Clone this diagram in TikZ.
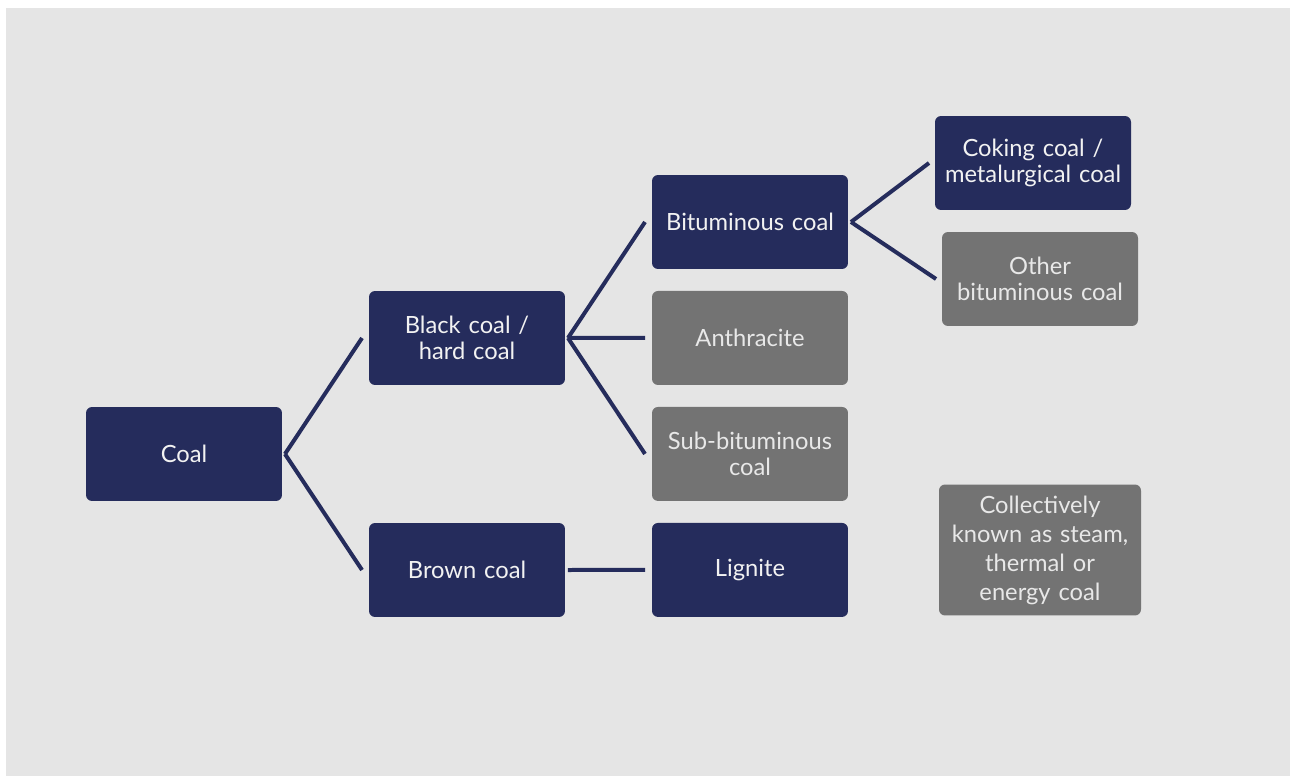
\documentclass[tikz,border=0pt]{standalone}
\usepackage{fontspec}
\setmainfont{Lato}
\usetikzlibrary{positioning}
\definecolor{navy}{RGB}{37,44,92}
\definecolor{greybox}{RGB}{115,115,115}
\definecolor{paper}{RGB}{229,229,229}
\definecolor{lighttext}{RGB}{242,242,242}
\definecolor{greytext}{RGB}{232,232,232}

\begin{document}
\begin{tikzpicture}[x=0.02cm,y=-0.02cm,
box/.style={rectangle,rounded corners=0.12cm,minimum width=3.92cm,minimum height=1.88cm,
    text width=3.8cm,align=center,inner sep=0pt,outer sep=0pt,font=\fontsize{13.5}{14.5}\selectfont},
dark/.style={box,fill=navy,text=lighttext},
pale/.style={box,fill=greybox,text=greytext},
link/.style={draw=navy,line width=0.08cm}]
\useasboundingbox (0,0) rectangle (1290,776);
\fill[paper] (6,8) rectangle (1290,776);

\node (coal) [dark] at (184,454) {Coal};
\node (black) [dark] at (467,338) {Black coal /\\hard coal};
\node (brown) [dark] at (467,570) {Brown coal};
\node (bitum) [dark] at (750,222) {Bituminous coal};
\node (anthr) [pale,below=0.44cm of bitum] {Anthracite};
\node (subbit) [pale,below=0.44cm of anthr] {Sub-bituminous\\coal};
\node (lignite) [dark,below=0.44cm of subbit] {Lignite};
\node (coking) [dark] at (1033,163) {Coking coal /\\metalurgical coal};
\node (other) [pale] at (1040,279) {Other\\bituminous coal};
\node (steam) [pale,minimum width=4.04cm,minimum height=2.62cm,
    font=\fontsize{13.5}{16.5}\selectfont] at (1040,550)
    {Collectively\\known as steam,\\thermal or\\energy coal};

\draw[link] ([xshift=0.06cm]coal.east) -- ([xshift=-0.14cm]black.west);
\draw[link] ([xshift=0.06cm]coal.east) -- ([xshift=-0.14cm]brown.west);
\draw[link] ([xshift=0.06cm]black.east) -- ([xshift=-0.14cm]bitum.west);
\draw[link] ([xshift=0.06cm]black.east) -- ([xshift=-0.14cm]anthr.west);
\draw[link] ([xshift=0.06cm]black.east) -- ([xshift=-0.14cm]subbit.west);
\draw[link] ([xshift=0.06cm]brown.east) -- ([xshift=-0.14cm]lignite.west);
\draw[link] ([xshift=0.06cm]bitum.east) -- ([xshift=-0.12cm]coking.west);
\draw[link] ([xshift=0.06cm]bitum.east) -- ([xshift=-0.12cm]other.west);
\end{tikzpicture}
\end{document}
